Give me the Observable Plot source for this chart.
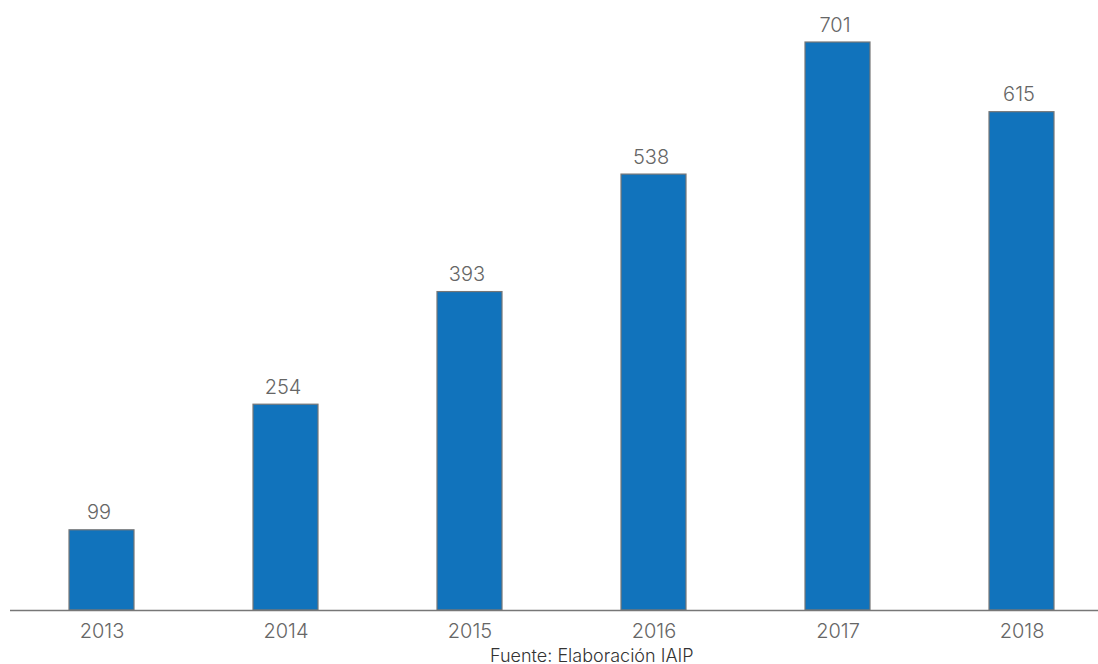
<!DOCTYPE html>
<html>
<head>
<meta charset="utf-8">
<script src="https://cdn.jsdelivr.net/npm/d3@7"></script>
<script src="https://cdn.jsdelivr.net/npm/@observablehq/plot@0.6"></script>
<style>
  html, body { margin: 0; padding: 0; background: #fff; }
  #chart svg { display: block; }
  #caption { font-family: Inter, sans-serif; font-size: 18px; font-weight: 350; line-height: 20px; color: #333; padding-left: 490px; white-space: nowrap; }
</style>
</head>
<body>
<div id="chart"></div>
<div id="caption">Fuente: Elaboración IAIP</div>
<script>
const years = ["2013", "2014", "2015", "2016", "2017", "2018"];
const values = [99, 254, 393, 538, 701, 615];

const data = years.map((y, i) => ({year: y, value: values[i]}));

const chart = Plot.plot({
  width: 1098,
  height: 646,
  marginLeft: 10,
  marginRight: 0,
  marginTop: 0,
  marginBottom: 36,
  style: {fontFamily: "Inter, sans-serif", fontSize: "20px", fontWeight: 350, color: "#666", background: "#fff"},
  x: {domain: years, range: [9, 1113], paddingInner: 0.647, paddingOuter: 0.3235, align: 0.5, label: null},
  y: {domain: [0, 701], range: [610, 42], axis: null},
  marks: [
    Plot.barY(data, {x: "year", y: "value", fill: "#1173bc", stroke: "#777", strokeWidth: 1.2}),
    Plot.text(data, {x: "year", y: "value", text: d => String(d.value), lineAnchor: "bottom", dy: -11, dx: -3, fill: "#666", fontSize: 20, fontWeight: 350}),
    Plot.ruleY([0], {stroke: "#777", strokeWidth: 1.5}),
    Plot.axisX({tickSize: 0, tickPadding: 13, fontSize: 20, fontWeight: 350, fill: "#666", label: null})
  ]
});
document.getElementById("chart").appendChild(chart);
</script>
</body>
</html>
